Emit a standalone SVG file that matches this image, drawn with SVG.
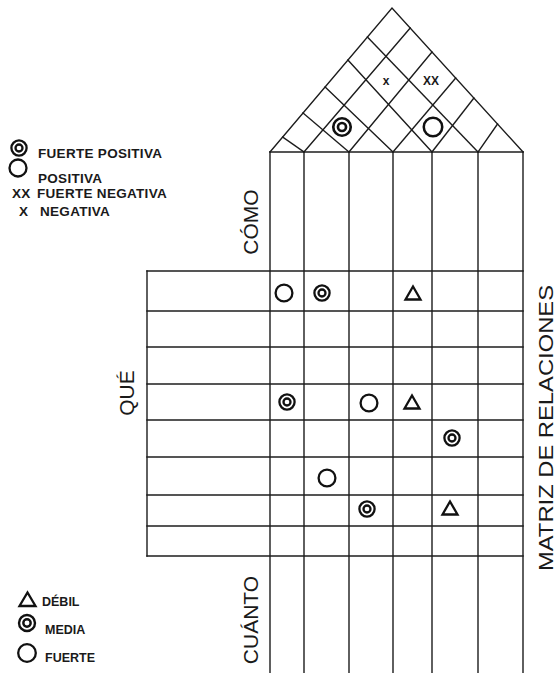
<svg xmlns="http://www.w3.org/2000/svg" xmlns:xlink="http://www.w3.org/1999/xlink" width="559" height="673" viewBox="0 0 559 673">
<defs>
<style>
.ln{stroke:#1c1c1c;stroke-width:1.4;fill:none;stroke-linecap:square}
.sym{stroke:#111;stroke-width:2.3;fill:none}
.lbl{font-family:"Liberation Sans",Arial,sans-serif;font-size:21px;fill:#1a1a1a}
.leg{font-family:"Liberation Sans",Arial,sans-serif;font-size:13.5px;font-weight:bold;fill:#1a1a1a;letter-spacing:0.3px}
.legb{font-family:"Liberation Sans",Arial,sans-serif;font-size:12.5px;font-weight:bold;fill:#1a1a1a}
.rx{font-family:"Liberation Sans",Arial,sans-serif;font-size:12px;font-weight:bold;fill:#1a1a1a;text-anchor:middle}
</style>
<g id="ring"><circle class="sym" r="8.4"/></g>
<g id="dbl"><circle class="sym" r="7.6"/><circle class="sym" r="3.5"/></g>
<g id="tri"><polygon class="sym" points="-7.5,6.5 7.5,6.5 0,-6.5" stroke-linejoin="miter"/></g>
</defs>
<rect width="559" height="673" fill="#fff"/>

<g id="roof">
<polyline class="ln" points="270,152 392,8 523,152"/>
<line class="ln" x1="270" y1="152" x2="523" y2="152"/>
<line class="ln" x1="282.7" y1="137" x2="304" y2="152"/>
<line class="ln" x1="303" y1="113" x2="349" y2="152"/>
<line class="ln" x1="325.1" y1="87" x2="393" y2="152"/>
<line class="ln" x1="347.9" y1="60" x2="432" y2="152"/>
<line class="ln" x1="367.4" y1="37" x2="478" y2="152"/>
<line class="ln" x1="410.2" y1="28" x2="304" y2="152"/>
<line class="ln" x1="432" y1="52" x2="349" y2="152"/>
<line class="ln" x1="455.7" y1="78" x2="393" y2="152"/>
<line class="ln" x1="473.9" y1="98" x2="432" y2="152"/>
<line class="ln" x1="497.5" y1="124" x2="478" y2="152"/>
</g>

<g id="roof-marks">
<text class="rx" x="386" y="85">x</text>
<text class="rx" x="431" y="85">XX</text>
<use xlink:href="#dbl" href="#dbl" transform="translate(342,127) scale(1.15)"/>
<use xlink:href="#ring" href="#ring" transform="translate(433,127) scale(1.1)"/>
</g>

<g id="columns">
<line class="ln" x1="270" y1="152" x2="270" y2="673"/>
<line class="ln" x1="304" y1="152" x2="304" y2="673"/>
<line class="ln" x1="349" y1="152" x2="349" y2="673"/>
<line class="ln" x1="393" y1="152" x2="393" y2="673"/>
<line class="ln" x1="432" y1="152" x2="432" y2="673"/>
<line class="ln" x1="478" y1="152" x2="478" y2="673"/>
<line class="ln" x1="523" y1="152" x2="523" y2="673"/>
</g>

<g id="rows">
<line class="ln" x1="147" y1="271" x2="147" y2="556"/>
<line class="ln" x1="147" y1="271" x2="523" y2="271"/>
<line class="ln" x1="147" y1="311" x2="523" y2="311"/>
<line class="ln" x1="147" y1="347" x2="523" y2="347"/>
<line class="ln" x1="147" y1="384" x2="523" y2="384"/>
<line class="ln" x1="147" y1="420" x2="523" y2="420"/>
<line class="ln" x1="147" y1="457" x2="523" y2="457"/>
<line class="ln" x1="147" y1="495" x2="523" y2="495"/>
<line class="ln" x1="147" y1="526" x2="523" y2="526"/>
<line class="ln" x1="147" y1="556" x2="523" y2="556"/>
</g>

<g id="matrix-marks">
<use href="#ring" x="284" y="293"/>
<use href="#dbl" x="322" y="293"/>
<use href="#tri" x="413" y="293"/>
<use href="#dbl" x="287" y="402"/>
<use href="#ring" x="369" y="403"/>
<use href="#tri" x="412" y="402"/>
<use href="#dbl" x="452" y="438"/>
<use href="#ring" x="327" y="478"/>
<use href="#dbl" x="367" y="509"/>
<use href="#tri" x="450" y="508"/>
</g>

<g id="labels">
<text class="lbl" text-anchor="middle" transform="translate(258,222) rotate(-90)">CÓMO</text>
<text class="lbl" text-anchor="middle" transform="translate(134,393) rotate(-90)">QUÉ</text>
<text class="lbl" text-anchor="middle" transform="translate(258,620) rotate(-90)">CUÁNTO</text>
<text class="lbl" text-anchor="middle" style="font-size:20.5px" textLength="286" lengthAdjust="spacingAndGlyphs" transform="translate(553,428) rotate(-90)">MATRIZ DE RELACIONES</text>
</g>

<g id="legend-roof">
<use href="#dbl" x="19" y="148"/>
<text class="leg" x="38" y="158">FUERTE POSITIVA</text>
<circle class="sym" cx="18" cy="168" r="8.5"/>
<text class="leg" x="38" y="183">POSITIVA</text>
<text class="leg" x="12" y="198">XX</text>
<text class="leg" x="37" y="198">FUERTE NEGATIVA</text>
<text class="leg" x="19" y="216">X</text>
<text class="leg" x="40" y="216">NEGATIVA</text>
</g>

<g id="legend-matrix">
<polygon class="sym" points="19.5,606 35.5,606 27.5,592.5" stroke-width="2.5"/>
<text class="legb" x="42" y="606">DÉBIL</text>
<use href="#dbl" transform="translate(27,623) scale(1.05)"/>
<text class="legb" x="45" y="634">MEDIA</text>
<circle class="sym" cx="27" cy="653" r="8.8"/>
<text class="legb" x="45" y="662">FUERTE</text>
</g>
</svg>
